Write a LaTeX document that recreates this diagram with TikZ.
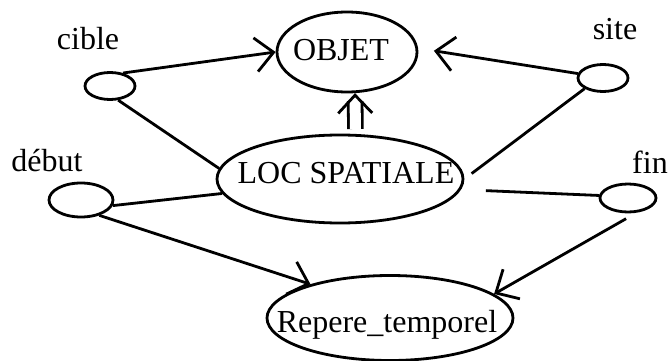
\documentclass[tikz,border=0pt]{standalone}
\usepackage{fontspec}
\setmainfont{Liberation Serif}
\usetikzlibrary{shapes.geometric,arrows.meta,calc}

\tikzset{
  link/.style={line width=2.8pt},
  arr/.style={-{Straight Barb[length=18pt,width=34pt]}},
  concept/.style={ellipse,draw,line width=2.8pt,inner sep=0pt},
  role/.style={ellipse,draw,line width=2.8pt,inner sep=0pt,minimum width=50pt,minimum height=27pt},
  tag/.style={anchor=base,inner sep=0pt}
}

\begin{document}
\begin{tikzpicture}[x=1pt,y=-1pt,font=\fontsize{32}{38}\selectfont]
\useasboundingbox (0,0) rectangle (669,361);
% concepts
\node[concept,minimum width=140pt,minimum height=80pt,label={[xshift=-6pt,yshift=2pt]center:OBJET}] (objet) at (347,52) {};
\node[concept,minimum width=246pt,minimum height=88pt,label={[xshift=6pt,yshift=6pt]center:LOC SPATIALE}] (loc) at (340,179) {};
\node[concept,minimum width=246pt,minimum height=85pt,label={[xshift=-3pt,yshift=-7pt]center:Repere\_temporel}] (rep) at (390,318) {};
% roles
\node[role] (cible) at (110,86) {};
\node[role] (site) at (603,78) {};
\node[role,minimum width=64pt,minimum height=34pt] (debut) at (81,200) {};
\node[role,minimum width=56pt,minimum height=28pt] (fin) at (628,198) {};
\node[tag] (tcible) at (88,49) {cible};
\node[tag] (tsite) at (615,40) {site};
\node[tag] (tdebut) at (47,171) {début};
\node[tag] (tfin) at (650,173) {fin};
% relations
\draw[link,arr] (cible.45) -- (objet.180);
\draw[link] (cible.-60) -- (loc.175);
\draw[link,arr,shorten >=16pt] (site.170) -- (objet.3);
\draw[link,shorten >=9pt] (site.-150) -- (loc.0);
\draw[link,double,double distance=11pt,shorten <=5pt,shorten >=8pt] (loc.71) -- (objet.-79);
\draw[link,arr] ($(loc.71)!0.95!(objet.-79)$) -- (objet.-79);
\draw[link] (debut.-10) -- (loc.187);
\draw[link,arr] (debut.-40) -- (rep.157);
\draw[link,shorten <=25pt] (loc.-5) -- (fin.175);
\draw[link,arr,shorten <=12pt] (fin.-60) -- (rep.13);
\end{tikzpicture}
\end{document}
